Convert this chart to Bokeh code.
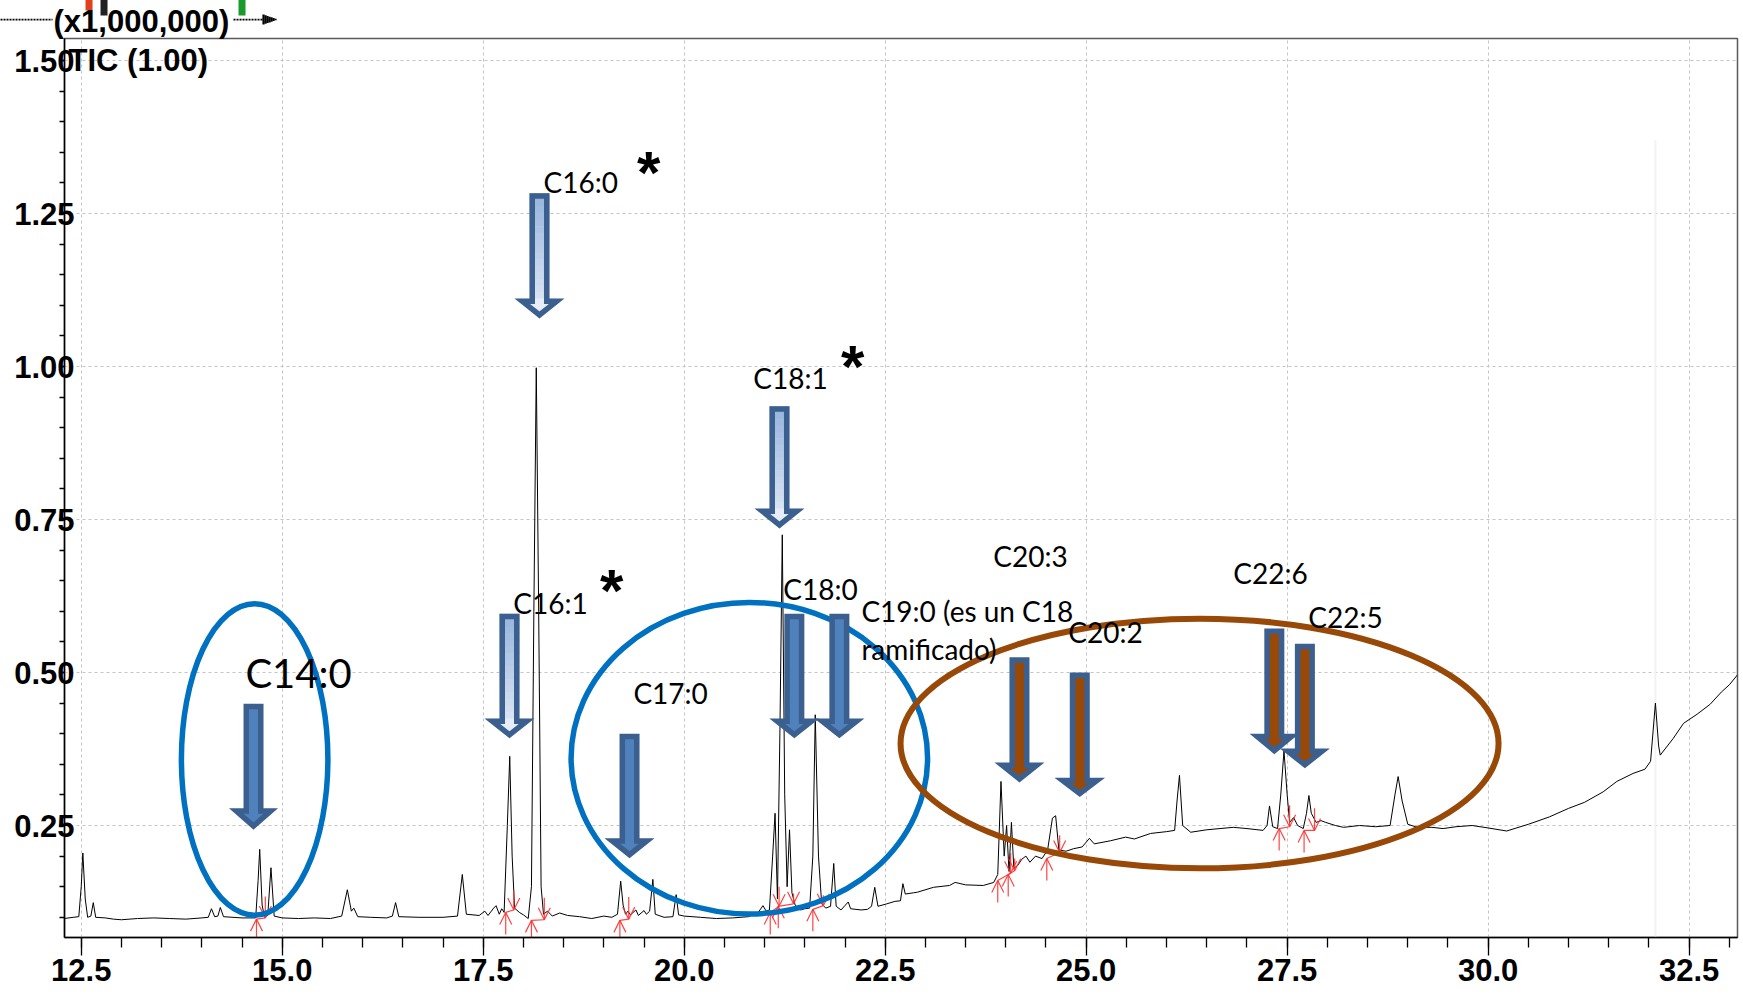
from bokeh.plotting import figure
from bokeh.models import FixedTicker, PrintfTickFormatter, Label, Arrow, NormalHead
from bokeh.core.properties import value
from bokeh.embed import file_html
from bokeh.resources import INLINE

# ---------------- data ----------------
rt = [12.29, 12.40, 12.47, 12.50, 12.52, 12.55, 12.58, 12.62, 12.65, 12.68, 12.80, 12.90,
      13.00, 13.20, 13.40, 13.60, 13.80, 14.00, 14.08, 14.12, 14.16, 14.20, 14.23, 14.27,
      14.50, 14.67, 14.70, 14.72, 14.75, 14.78, 14.82, 14.86, 14.90, 15.00, 15.20, 15.40,
      15.60, 15.74, 15.81, 15.86, 15.89, 15.94, 16.10, 16.30, 16.37, 16.41, 16.45, 16.70,
      17.00, 17.18, 17.24, 17.29, 17.45, 17.52, 17.56, 17.63, 17.66, 17.70, 17.73, 17.76,
      17.80, 17.83, 17.86, 17.89, 17.95, 18.00, 18.06, 18.10, 18.13, 18.16, 18.19, 18.22,
      18.25, 18.30, 18.36, 18.45, 18.55, 18.70, 18.85, 19.00, 19.10, 19.17, 19.21, 19.24,
      19.27, 19.30, 19.33, 19.40, 19.43, 19.50, 19.53, 19.57, 19.61, 19.64, 19.75, 19.86,
      19.90, 19.93, 20.00, 20.20, 20.40, 20.60, 20.80, 20.92, 20.98, 21.02, 21.06, 21.10,
      21.13, 21.16, 21.19, 21.22, 21.25, 21.28, 21.31, 21.34, 21.38, 21.45, 21.50, 21.56,
      21.60, 21.63, 21.67, 21.71, 21.76, 21.82, 21.86, 21.89, 21.95, 22.04, 22.07, 22.20,
      22.28, 22.33, 22.37, 22.41, 22.52, 22.62, 22.69, 22.72, 22.75, 22.85, 22.90, 23.10,
      23.30, 23.37, 23.50, 23.72, 23.85, 23.90, 23.94, 23.98, 24.01, 24.04, 24.07, 24.10,
      24.15, 24.20, 24.25, 24.30, 24.37, 24.45, 24.52, 24.58, 24.62, 24.66, 24.75, 24.84,
      24.95, 25.04, 25.10, 25.30, 25.49, 25.60, 25.80, 26.00, 26.10, 26.13, 26.16, 26.20,
      26.30, 26.50, 26.83, 27.00, 27.20, 27.25, 27.28, 27.32, 27.38, 27.42, 27.46, 27.50,
      27.53, 27.58, 27.63, 27.70, 27.74, 27.77, 27.80, 27.86, 27.92, 27.98, 28.10, 28.20,
      28.40, 28.60, 28.78, 28.84, 28.88, 28.93, 29.00, 29.12, 29.30, 29.44, 29.60, 29.80,
      30.00, 30.23, 30.50, 30.76, 31.00, 31.20, 31.43, 31.60, 31.80, 31.95, 32.02, 32.08,
      32.12, 32.14, 32.30, 32.43, 32.60, 32.76, 32.90, 33.00, 33.10]
tic = [0.098, 0.100, 0.101, 0.150, 0.205, 0.130, 0.100, 0.102, 0.124, 0.100, 0.099, 0.097,
       0.096, 0.098, 0.099, 0.098, 0.097, 0.099, 0.100, 0.114, 0.101, 0.102, 0.116, 0.101,
       0.099, 0.099, 0.160, 0.211, 0.120, 0.100, 0.103, 0.181, 0.102, 0.099, 0.098, 0.099,
       0.098, 0.102, 0.145, 0.110, 0.115, 0.101, 0.100, 0.099, 0.102, 0.124, 0.101, 0.100,
       0.100, 0.102, 0.170, 0.105, 0.103, 0.110, 0.103, 0.115, 0.119, 0.105, 0.114, 0.108,
       0.250, 0.363, 0.200, 0.115, 0.108, 0.104, 0.098, 0.150, 0.600, 0.998, 0.600, 0.150,
       0.105, 0.110, 0.102, 0.107, 0.103, 0.101, 0.098, 0.102, 0.100, 0.105, 0.159, 0.120,
       0.105, 0.110, 0.104, 0.112, 0.103, 0.111, 0.105, 0.110, 0.162, 0.105, 0.100, 0.101,
       0.137, 0.104, 0.102, 0.100, 0.098, 0.099, 0.101, 0.108, 0.119, 0.110, 0.112, 0.200,
       0.270, 0.130, 0.400, 0.725, 0.300, 0.150, 0.243, 0.140, 0.120, 0.112, 0.114, 0.115,
       0.200, 0.431, 0.200, 0.122, 0.115, 0.118, 0.188, 0.118, 0.112, 0.125, 0.114, 0.112,
       0.113, 0.118, 0.149, 0.118, 0.122, 0.126, 0.127, 0.155, 0.138, 0.140, 0.141, 0.149,
       0.152, 0.157, 0.153, 0.152, 0.157, 0.170, 0.322, 0.200, 0.250, 0.175, 0.255, 0.180,
       0.185, 0.195, 0.200, 0.190, 0.200, 0.196, 0.210, 0.262, 0.266, 0.210, 0.208, 0.212,
       0.215, 0.229, 0.220, 0.225, 0.231, 0.228, 0.237, 0.240, 0.242, 0.290, 0.332, 0.250,
       0.239, 0.243, 0.247, 0.245, 0.242, 0.250, 0.282, 0.248, 0.245, 0.300, 0.372, 0.300,
       0.255, 0.263, 0.250, 0.245, 0.270, 0.299, 0.270, 0.255, 0.258, 0.255, 0.250, 0.247,
       0.250, 0.248, 0.250, 0.300, 0.330, 0.290, 0.252, 0.247, 0.247, 0.245, 0.248, 0.250,
       0.246, 0.241, 0.252, 0.264, 0.278, 0.288, 0.305, 0.322, 0.335, 0.342, 0.355, 0.450,
       0.380, 0.365, 0.392, 0.417, 0.432, 0.448, 0.468, 0.480, 0.496]

x_ticks = [12.5, 15.0, 17.5, 20.0, 22.5, 25.0, 27.5, 30.0, 32.5]
x_minor = [12.0, 12.5, 13.0, 13.5, 14.0, 14.5, 15.0, 15.5, 16.0, 16.5, 17.0, 17.5, 18.0, 18.5,
           19.0, 19.5, 20.0, 20.5, 21.0, 21.5, 22.0, 22.5, 23.0, 23.5, 24.0, 24.5, 25.0, 25.5,
           26.0, 26.5, 27.0, 27.5, 28.0, 28.5, 29.0, 29.5, 30.0, 30.5, 31.0, 31.5, 32.0, 32.5, 33.0]
y_ticks = [0.25, 0.50, 0.75, 1.00, 1.25, 1.50]
y_minor = [0.10, 0.15, 0.20, 0.25, 0.30, 0.35, 0.40, 0.45, 0.50, 0.55, 0.60, 0.65, 0.70, 0.75,
           0.80, 0.85, 0.90, 0.95, 1.00, 1.05, 1.10, 1.15, 1.20, 1.25, 1.30, 1.35, 1.40, 1.45, 1.50]

# compound labels
lab_text = ["C16:1", "C16:0", "C17:0", "C18:1", "C18:0", "C20:3", "C20:2", "C22:6", "C22:5"]
lab_x = [18.337, 18.713, 19.831, 21.323, 21.696, 24.307, 25.240, 27.292, 28.225]
lab_y = [0.614, 1.301, 0.467, 0.982, 0.637, 0.690, 0.567, 0.662, 0.590]
c19_lines = ["C19:0 (es un C18", "ramificado)"]
c19_x = [22.204, 22.204]
c19_y = [0.601, 0.539]
big_label = "C14:0"
big_x, big_y = 15.203, 0.500
star_x = [19.558, 22.095, 19.098]
star_y = [1.337, 1.020, 0.654]

# arrows: centre x, top y, head-start y, tip y, style
arrows = [
    (14.643, 0.449, 0.278, 0.243, "dark"),
    (17.827, 0.596, 0.425, 0.392, "light"),
    (18.200, 1.283, 1.111, 1.078, "light"),
    (19.320, 0.400, 0.229, 0.196, "dark"),
    (21.185, 0.935, 0.768, 0.735, "light"),
    (21.370, 0.596, 0.425, 0.392, "dark"),
    (21.930, 0.596, 0.425, 0.392, "dark"),
    (24.170, 0.525, 0.353, 0.320, "brown"),
    (24.920, 0.500, 0.328, 0.296, "brown"),
    (27.340, 0.572, 0.400, 0.366, "brown"),
    (27.720, 0.547, 0.376, 0.343, "brown"),
]

# ellipses: centre x, centre y, width, height, colour
ellipses = [
    (14.657, 0.358, 1.822, 0.509, "#0070c0"),
    (20.810, 0.360, 4.434, 0.509, "#0070c0"),
    (26.410, 0.384, 7.438, 0.408, "#984807"),
]

# integration marks: start x, start y, end x, end y (bottom), end y (top)
marks = [
    (14.68, 0.097, 14.79, 0.099, 0.134),
    (17.78, 0.108, 17.88, 0.112, 0.144),
    (18.10, 0.095, 18.26, 0.096, 0.132),
    (19.20, 0.095, 19.31, 0.097, 0.133),
    (21.07, 0.108, 21.18, 0.118, 0.150),
    (21.17, 0.118, 21.36, 0.122, 0.139),
    (21.60, 0.113, 21.73, 0.119, 0.136),
    (23.90, 0.160, 24.06, 0.172, 0.205),
    (24.03, 0.170, 24.11, 0.176, 0.196),
    (24.51, 0.196, 24.67, 0.206, 0.234),
    (27.40, 0.245, 27.53, 0.248, 0.283),
    (27.71, 0.242, 27.84, 0.242, 0.278),
]

# ---------------- figure ----------------
X0, X1 = 12.292, 33.101
Y0, Y1 = 0.067, 1.536
p = figure(width=1743, height=994, x_range=(X0, X1), y_range=(Y0, Y1),
           output_backend="svg", toolbar_location=None,
           min_border_left=64, min_border_right=6, min_border_top=38, min_border_bottom=57)
p.background_fill_color = "white"
p.border_fill_color = "white"
p.outline_line_color = "#5a5a5a"
p.outline_line_width = 1.5

PX = 1673.0 / (X1 - X0)   # pixels per x unit
PY = 899.0 / (Y1 - Y0)    # pixels per y unit


def dx(px):
    return 12.5 + (px - 80.7) / PX


def dy(py):
    return 1.5 + (60.0 - py) / PY


# scale header above the frame
p.title.text = "(x1,000,000)"
p.title.align = "left"
p.title.offset = -11
p.title.standoff = 0
p.title.text_font = "Liberation Sans"
p.title.text_font_size = "31px"
p.title.text_font_style = "bold"
p.title.text_color = "black"
p.title.vertical_align = "bottom"

p.xaxis.ticker = FixedTicker(ticks=x_ticks, minor_ticks=x_minor)
p.yaxis.ticker = FixedTicker(ticks=y_ticks, minor_ticks=y_minor)
p.xaxis.formatter = PrintfTickFormatter(format="%.1f")
p.yaxis.formatter = PrintfTickFormatter(format="%.2f")
for ax in (p.xaxis[0], p.yaxis[0]):
    ax.axis_line_color = "black"
    ax.axis_line_width = 1.5
    ax.major_tick_line_color = "black"
    ax.minor_tick_line_color = "black"
    ax.major_tick_line_width = 1.3
    ax.minor_tick_line_width = 1.3
    ax.major_tick_in = 0
    ax.minor_tick_in = 0
    ax.major_label_text_font = "Liberation Sans"
    ax.major_label_text_font_size = "31px"
    ax.major_label_text_font_style = "bold"
    ax.major_label_text_color = "black"
p.xaxis.major_tick_out = 18
p.xaxis.minor_tick_out = 10
p.xaxis.major_label_standoff = 3
p.yaxis.major_tick_out = 5
p.yaxis.minor_tick_out = 5
p.yaxis.major_label_standoff = -15

p.grid.grid_line_color = "#c4c4c4"
p.grid.grid_line_dash = "3 3"
p.grid.grid_line_width = 1

# faint marker line near 32.1
p.segment(x0=[32.08], y0=[Y0], x1=[32.08], y1=[1.37], line_color="#f2f2f2", line_width=2)

# chromatogram trace
p.line(rt, tic, line_color="black", line_width=1)

# integration marks (red)
mx, my = [], []
cw, ch = 6.0 / PX, 12.0 / PY
for sx, sy, ex, eyb, eyt in marks:
    mx += [[sx, sx], [sx - cw, sx, sx + cw], [sx, ex], [ex, ex], [ex - cw, ex, ex + cw]]
    my += [[sy, sy - 22.0 / PY], [sy - ch, sy, sy - ch], [sy, eyb], [eyt, eyb], [eyb + ch, eyb, eyb + ch]]
p.multi_line(mx, my, line_color="#ff3030", line_width=1.2, line_alpha=0.9)

# ellipses
for ex_, ey_, ew, eh, ec in ellipses:
    p.ellipse(x=[ex_], y=[ey_], width=[ew], height=[eh], fill_color=None,
              line_color=ec, line_width=6 if ec == "#984807" else 5.5)

# arrows
LW = 5.5
OUT = "#3b5f8e"


def hexrgb(h):
    return tuple(int(h[i:i + 2], 16) for i in (1, 3, 5))


def mix(c1, c2, f):
    a, b = hexrgb(c1), hexrgb(c2)
    return "#%02x%02x%02x" % tuple(int(round(a[i] + (b[i] - a[i]) * f)) for i in range(3))


for xc, yt, yh, ytip, style in arrows:
    hw_o, hh_o = 10.0 / PX, 21.0 / PX
    ins = LW / 2.0
    hw = (10.0 - ins) / PX
    hh = (21.0 - ins * 1.4) / PX
    yt_i = yt - ins / PY
    yh_i = yh - ins / PY
    ytip_i = ytip + 3.8 / PY
    xs = [xc - hw, xc + hw, xc + hw, xc + hh, xc, xc - hh, xc - hw]
    ys = [yt_i, yt_i, yh_i, yh_i, ytip_i, yh_i, yh_i]
    if style == "light":
        ctop, cbot = "#95b3dc", "#e6edf8"
        n = 16
        total = yt - ytip
        lefts, rights, tops, bots, cols = [], [], [], [], []
        for i in range(n):
            a = yt - (yt - yh) * i / n
            b = yt - (yt - yh) * (i + 1) / n
            lefts.append(xc - hw_o)
            rights.append(xc + hw_o)
            tops.append(a)
            bots.append(b - 0.001)
            cols.append(mix(ctop, cbot, ((yt - a) + (yt - b)) / 2 / total))
        p.quad(left=lefts, right=rights, top=tops, bottom=bots, fill_color=cols, line_color=None)
        p.patch([xc - hh_o, xc + hh_o, xc], [yh, yh, ytip], fill_color=cbot, line_color=None)
        p.patch(xs, ys, fill_color=None, line_color=OUT, line_width=LW, line_join="miter")
    elif style == "dark":
        p.patch(xs, ys, fill_color="#4f81bd", line_color=OUT, line_width=LW, line_join="miter")
    else:
        p.patch(xs, ys, fill_color="#984807", line_color=OUT, line_width=LW, line_join="miter")

# compound labels
p.text(x=lab_x, y=lab_y, text=lab_text, text_font=value("Lato"), text_font_size=value("28px"),
       text_align="center", text_baseline="middle", text_color="black")
p.text(x=c19_x, y=c19_y, text=c19_lines, text_font=value("Lato"), text_font_size=value("28px"),
       text_align="left", text_baseline="middle", text_color="black")
p.text(x=[big_x], y=[big_y], text=[big_label], text_font=value("Lato"), text_font_size=value("40px"),
       text_align="center", text_baseline="middle", text_color="black")
p.text(x=star_x, y=[v - 12.0 / PY for v in star_y], text=["*"] * len(star_x),
       text_font=value("Liberation Sans"), text_font_size=value("60px"), text_font_style="bold",
       text_align="center", text_baseline="middle", text_color="black")

# header text inside the frame
p.add_layout(Label(x=12.342, y=1.500, text="TIC (1.00)", text_font="Liberation Sans",
                   text_font_size="31px", text_font_style="bold", text_baseline="middle",
                   text_align="left", text_color="black"))


# cut-off toolbar remnants above the frame: arrow bodies outside the frame show only
# inside their head's clip region, so each uses a large invisible head as a window
def remnant(x0, y0, x1, y1, color, width, dash="solid", head=400):
    p.add_layout(Arrow(x_start=dx(x0), y_start=dy(y0), x_end=dx(x1), y_end=dy(y1),
                       line_color=color, line_width=width, line_dash=dash,
                       end=NormalHead(size=head, fill_alpha=0, line_alpha=0)))


remnant(0, 19, 52, 19, "black", 1.8, "2 1", head=300)
remnant(233, 19, 263, 19, "black", 1.8, "2 1", head=300)
# small solid arrowhead (tapering vertical strokes)
for k in range(7):
    hx = 263 + 2 * k
    hh_ = 4.6 * (276 - hx) / 13.0 + 0.4
    remnant(hx, 19 + hh_, hx, 19 - hh_, "black", 2.2, head=60)
remnant(88.5, 10, 88.5, -40, "#e0401c", 7)
remnant(103.5, 15, 103.5, -40, "#222222", 7)
remnant(241.5, 15, 241.5, -40, "#1a9a2a", 7)

out = file_html(p, INLINE)
open("out.html", "w").write(out)
